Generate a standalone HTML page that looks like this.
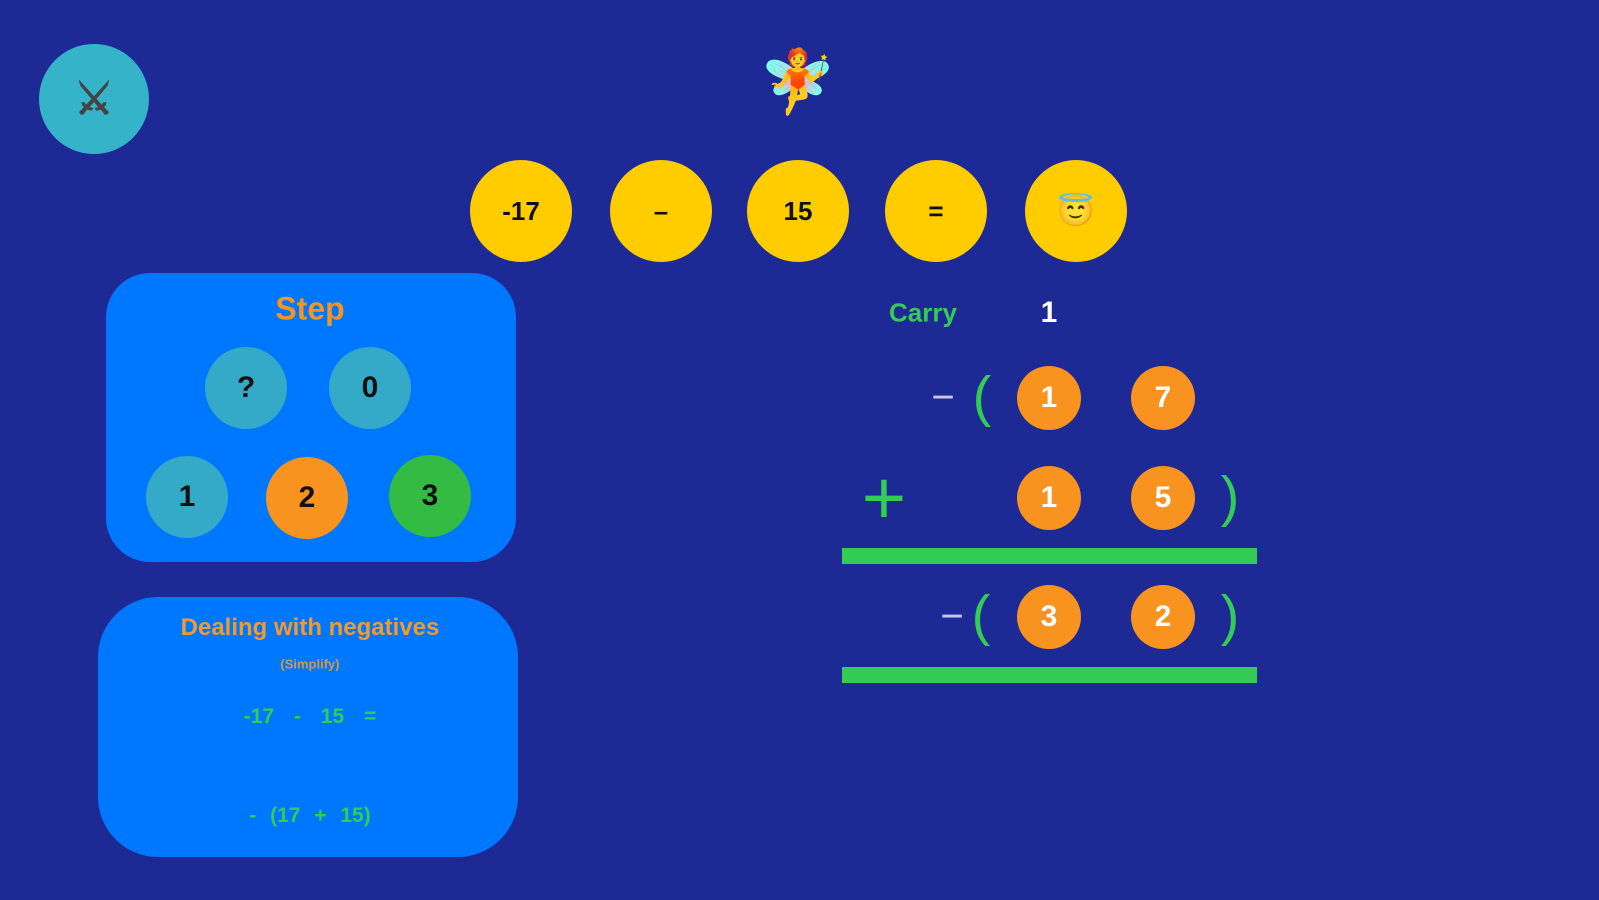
<!DOCTYPE html>
<html><head><meta charset="utf-8"><style>
body{margin:0;width:1599px;height:900px;background:#1d2995;overflow:hidden;font-family:"Liberation Sans",sans-serif;font-weight:bold;position:relative}
.c{position:absolute;border-radius:50%;display:flex;align-items:center;justify-content:center;transform:translate(-50%,-50%)}
.t{position:absolute;transform:translate(-50%,-50%);white-space:nowrap}
.y{width:102px;height:102px;background:#ffcc00;color:#111;font-size:26px}
.s{width:82px;height:82px;color:#111;font-size:30px}
.o{width:64px;height:64px;background:#f7931e;color:#fff;font-size:30px}
.box{position:absolute;background:#0077ff;border-radius:44px}
.g{color:#33cc55}
</style></head><body>
<div class="c" style="left:94px;top:99px;width:110px;height:110px;background:#35b3c9;font-size:44px;color:#444">⚔</div>
<div class="t" style="left:798px;top:82px;font-size:62px;font-family:'DejaVu Sans',sans-serif">🧚</div>
<div class="c y" style="left:521px;top:211px">-17</div>
<div class="c y" style="left:661px;top:211px">–</div>
<div class="c y" style="left:798px;top:211px">15</div>
<div class="c y" style="left:936px;top:211px">=</div>
<div class="c y" style="left:1076px;top:211px;font-size:30px">😇</div>

<div class="box" style="left:106px;top:273px;width:410px;height:289px"></div>
<div class="t" style="left:310px;top:309px;font-size:32px;color:#f7941d">Step</div>
<div class="c s" style="left:246px;top:388px;background:#34a9c8">?</div>
<div class="c s" style="left:370px;top:388px;background:#34a9c8">0</div>
<div class="c s" style="left:187px;top:497px;background:#34a9c8">1</div>
<div class="c s" style="left:307px;top:498px;background:#f7931e">2</div>
<div class="c s" style="left:430px;top:496px;background:#33bb44">3</div>

<div class="box" style="left:98px;top:597px;width:420px;height:260px;border-radius:60px"></div>
<div class="t" style="left:310px;top:628px;font-size:24px;color:#f09a30">Dealing with negatives</div>
<div class="t" style="left:310px;top:664px;font-size:13px;color:#d49a40">(Simplify)</div>
<div class="t g" style="left:310px;top:717px;font-size:21px;word-spacing:14px">-17 - 15 =</div>
<div class="t g" style="left:310px;top:816px;font-size:21px;word-spacing:8px">- (17 + 15)</div>

<div class="t g" style="left:923px;top:313px;font-size:26px">Carry</div>
<div class="t" style="left:1049px;top:313px;font-size:30px;color:#fff">1</div>

<div class="t" style="left:943px;top:398px;font-size:40px;color:#c8c8ee;font-weight:normal">−</div>
<div class="t g" style="left:982px;top:396px;font-size:56px;font-weight:normal">(</div>
<div class="c o" style="left:1049px;top:398px">1</div>
<div class="c o" style="left:1163px;top:398px">7</div>

<div class="t g" style="left:884px;top:498px;font-size:76px;font-weight:normal">+</div>
<div class="c o" style="left:1049px;top:498px">1</div>
<div class="c o" style="left:1163px;top:498px">5</div>
<div class="t g" style="left:1230px;top:496px;font-size:56px;font-weight:normal">)</div>
<div style="position:absolute;left:842px;top:548px;width:415px;height:16px;background:#33cc55"></div>

<div class="t" style="left:952px;top:617px;font-size:40px;color:#c8c8ee;font-weight:normal">−</div>
<div class="t g" style="left:981px;top:615px;font-size:56px;font-weight:normal">(</div>
<div class="c o" style="left:1049px;top:617px">3</div>
<div class="c o" style="left:1163px;top:617px">2</div>
<div class="t g" style="left:1230px;top:615px;font-size:56px;font-weight:normal">)</div>
<div style="position:absolute;left:842px;top:667px;width:415px;height:16px;background:#33cc55"></div>
</body></html>
